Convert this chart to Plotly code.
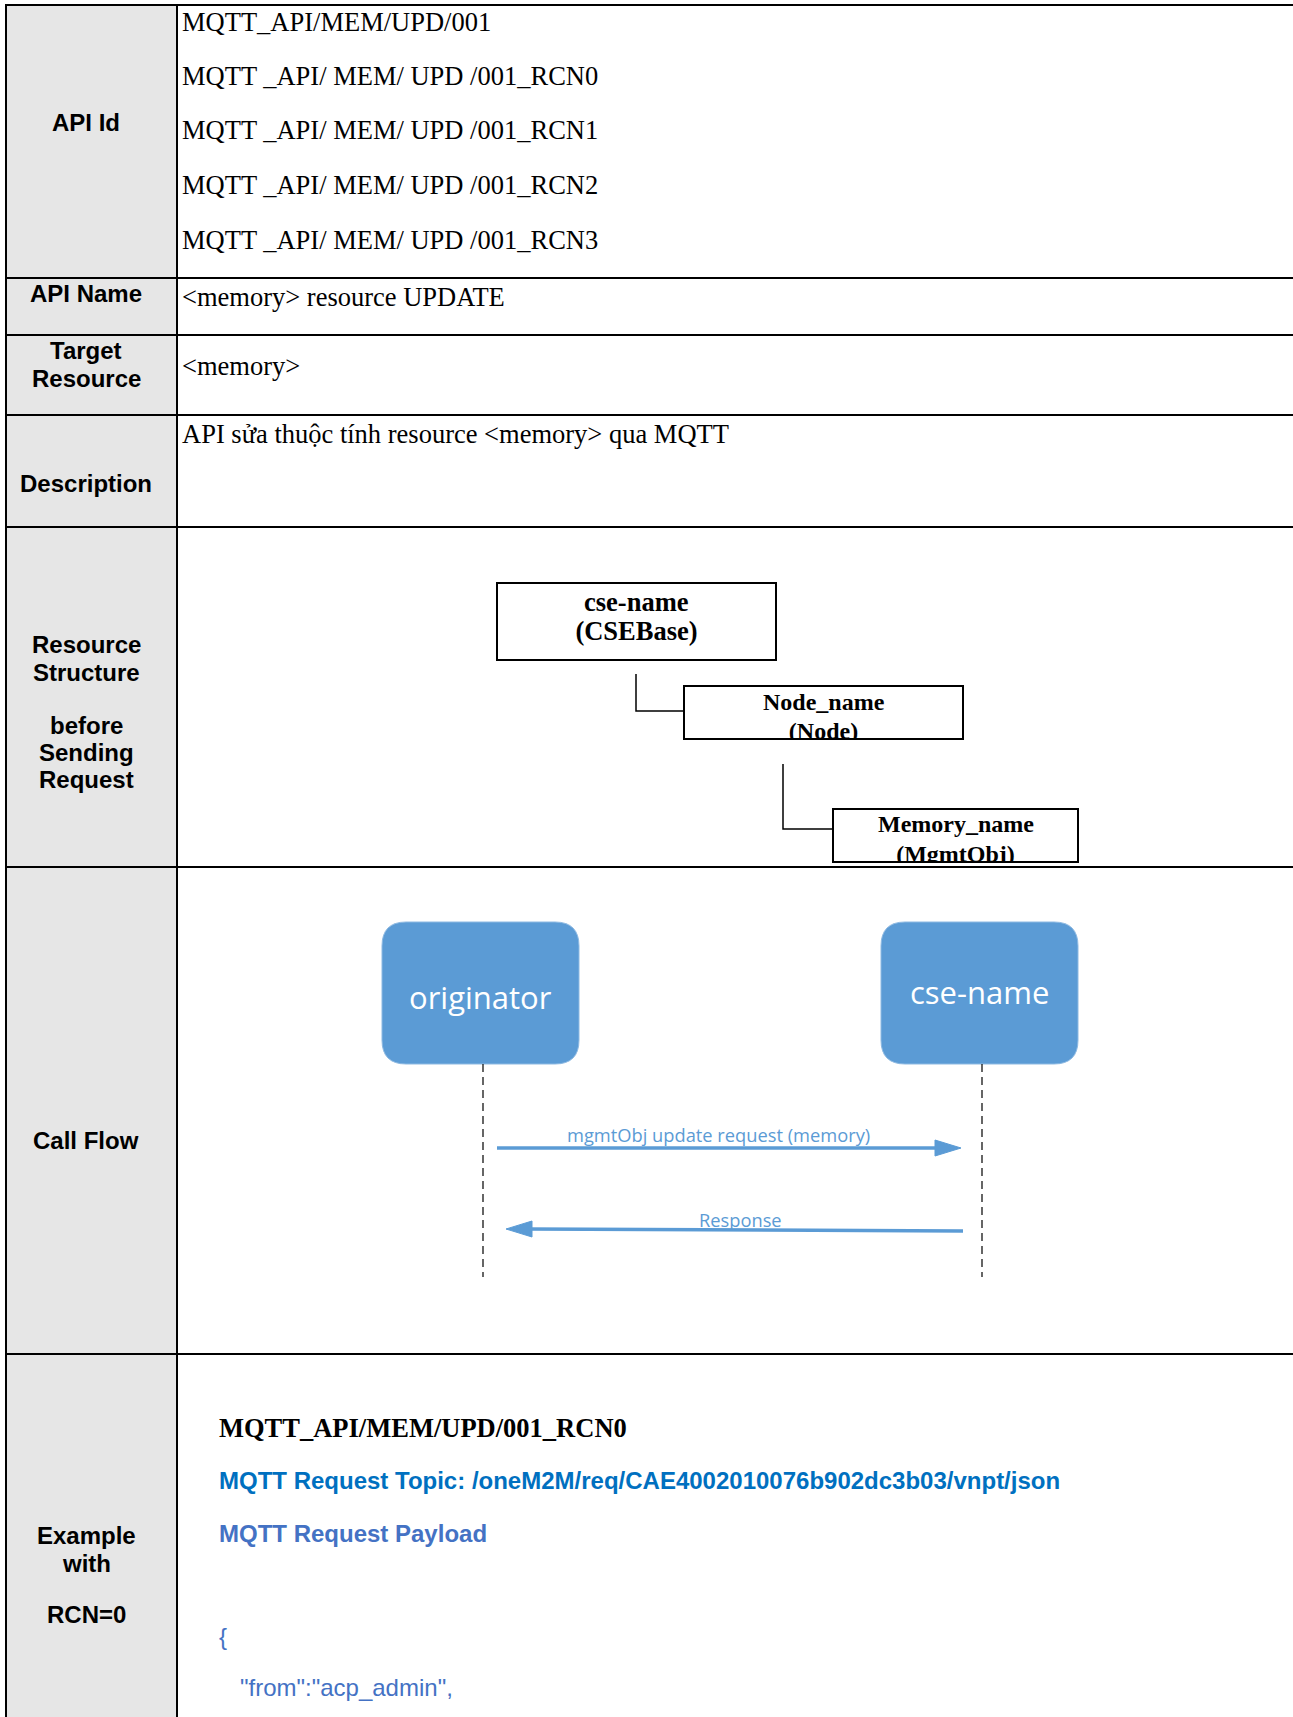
import plotly.graph_objects as go

W, H = 1293, 1717

# ---------------- data (texts) ----------------
label_lines = {
    "api_id": ["API Id"],
    "api_name": ["API Name"],
    "target": ["Target", "Resource"],
    "description": ["Description"],
    "structure": ["Resource", "Structure", "before", "Sending", "Request"],
    "call_flow": ["Call Flow"],
    "example": ["Example", "with", "RCN=0"],
}
api_ids = [
    "MQTT_API/MEM/UPD/001",
    "MQTT _API/ MEM/ UPD /001_RCN0",
    "MQTT _API/ MEM/ UPD /001_RCN1",
    "MQTT _API/ MEM/ UPD /001_RCN2",
    "MQTT _API/ MEM/ UPD /001_RCN3",
]
api_name = "&lt;memory&gt; resource UPDATE"
target_resource = "&lt;memory&gt;"
description = "API sửa thuộc tính resource &lt;memory&gt; qua MQTT"
tree_nodes = [["cse-name", "(CSEBase)"], ["Node_name", "(Node)"], ["Memory_name", "(MgmtObj)"]]
actors = ["originator", "cse-name"]
messages = ["mgmtObj update request (memory)", "Response"]
example_title = "MQTT_API/MEM/UPD/001_RCN0"
example_topic = "MQTT Request Topic: /oneM2M/req/CAE4002010076b902dc3b03/vnpt/json"
example_payload_title = "MQTT Request Payload"
payload_lines = ["{", "\"from\":\"acp_admin\","]

# ---------------- layout geometry ----------------
row_edges = [5, 278, 335, 415, 527, 867, 1354]
x_left, x_div = 6, 177
label_x = 86
label_pos = {
    "api_id": [122], "api_name": [293], "target": [350, 378], "description": [483],
    "structure": [644, 672, 725, 752, 779], "call_flow": [1140], "example": [1535, 1563, 1614],
}
api_id_y = [22, 76, 130, 185, 240]
content_x = 180

SERIF = "Liberation Serif, Times New Roman, serif"
SANS = "Liberation Sans, Arial, sans-serif"
UI = "Open Sans, Noto Sans, sans-serif"
BLUE = "#5B9BD5"

fig = go.Figure()
shapes = []
ann = []

# label column background
shapes.append(dict(type="rect", x0=x_left, x1=x_div, y0=row_edges[0], y1=H + 20,
                   fillcolor="#e6e6e6", line=dict(width=0), layer="below"))

def text(x, y, s, size, family, color="black", xanchor="left", bold=False):
    if bold:
        s = "<b>" + s + "</b>"
    ann.append(dict(x=x, y=y, xref="x", yref="y", text=s, showarrow=False,
                    xanchor=xanchor, yanchor="middle",
                    font=dict(size=size, family=family, color=color)))

# labels
for key, lines in label_lines.items():
    for ln, yy in zip(lines, label_pos[key]):
        text(label_x, yy, ln, 24, SANS, xanchor="center", bold=True)

# content texts
for s, yy in zip(api_ids, api_id_y):
    text(content_x, yy, s, 26.5, SERIF)
text(content_x, 297, api_name, 26.5, SERIF)
text(content_x, 366, target_resource, 26.5, SERIF)
text(content_x, 434, description, 26.5, SERIF)

# ---- resource tree ----
boxes = [(497, 776, 583, 660), (684, 963, 686, 739), (833, 1078, 809, 862)]
text_y = [(602, 633), (702, 733), (824, 856)]
tree_font = [26.5, 24, 24]
shapes.append(dict(type="path", path="M 636 660 L 636 711 L 684 711",
                   line=dict(color="black", width=1.5), layer="below"))
shapes.append(dict(type="path", path="M 783 764 L 783 829 L 833 829",
                   line=dict(color="black", width=1.5), layer="below"))
for (x0, x1, y0, y1), (t1, t2), (ya, yb), fs in zip(boxes, tree_nodes, text_y, tree_font):
    cx = (x0 + x1) / 2
    text(cx, ya, t1, fs, SERIF, xanchor="center", bold=True)
    fig.add_trace(go.Scatter(x=[cx], y=[yb], mode="text", text=["<b>" + t2 + "</b>"],
                             textposition="middle center", hoverinfo="skip",
                             textfont=dict(size=fs, family=SERIF, color="black")))
    shapes.append(dict(type="rect", x0=x0 - 2, x1=x1 + 2, y0=y1 + 1, y1=y1 + 14,
                       fillcolor="white", line=dict(width=0), layer="above"))
    shapes.append(dict(type="rect", x0=x0, x1=x1, y0=y0, y1=y1,
                       line=dict(color="black", width=2), layer="above"))

# ---- call flow ----
def rrect(x0, x1, y0, y1, r):
    return (f"M {x0+r} {y0} L {x1-r} {y0} Q {x1} {y0} {x1} {y0+r} L {x1} {y1-r} "
            f"Q {x1} {y1} {x1-r} {y1} L {x0+r} {y1} Q {x0} {y1} {x0} {y1-r} "
            f"L {x0} {y0+r} Q {x0} {y0} {x0+r} {y0} Z")

actor_boxes = [(382, 579), (881, 1078)]
actor_text_y = [997, 992]
lifeline_x = [483, 982]
for (x0, x1), name, ty, lx in zip(actor_boxes, actors, actor_text_y, lifeline_x):
    shapes.append(dict(type="path", path=rrect(x0, x1, 922, 1064, 24),
                       fillcolor=BLUE, line=dict(color="#8db9e2", width=1), layer="below"))
    text((x0 + x1) / 2, ty, name, 31, UI, color="white", xanchor="center")
    shapes.append(dict(type="line", x0=lx, x1=lx, y0=1064, y1=1277,
                       line=dict(color="black", width=1.2, dash="8px,5px"), layer="below"))

# request arrow
shapes.append(dict(type="line", x0=497, x1=940, y0=1148, y1=1148,
                   line=dict(color=BLUE, width=3.5), layer="below"))
shapes.append(dict(type="path", path="M 935 1140 L 961 1148 L 935 1156 Z",
                   fillcolor=BLUE, line=dict(color=BLUE, width=1), layer="below"))
text(718, 1134, messages[0], 18.3, UI, color=BLUE, xanchor="center")
# response arrow
shapes.append(dict(type="line", x0=528, x1=963, y0=1229, y1=1231,
                   line=dict(color=BLUE, width=3.5), layer="below"))
shapes.append(dict(type="path", path="M 532 1221 L 506 1229 L 532 1237 Z",
                   fillcolor=BLUE, line=dict(color=BLUE, width=1), layer="below"))
text(740, 1219, messages[1], 18.3, UI, color=BLUE, xanchor="center")

# ---- example ----
text(217, 1428, example_title, 26.5, SERIF, bold=True)
text(217, 1480, example_topic, 24, SANS, color="#0070C0", bold=True)
text(217, 1533, example_payload_title, 24, SANS, color="#4472C4", bold=True)
text(217, 1636, payload_lines[0], 24, SANS, color="#4472C4")
text(238, 1687, payload_lines[1], 24, SANS, color="#4472C4")

# table rules (drawn on top)
for yy in row_edges:
    shapes.append(dict(type="line", x0=x_left - 1, x1=W + 20, y0=yy, y1=yy,
                       line=dict(color="black", width=2), layer="above"))
for xx in (x_left, x_div):
    shapes.append(dict(type="line", x0=xx, x1=xx, y0=row_edges[0], y1=H + 20,
                       line=dict(color="black", width=2), layer="above"))

fig.update_layout(
    width=W, height=H, margin=dict(l=0, r=0, t=0, b=0),
    paper_bgcolor="white", plot_bgcolor="white", showlegend=False,
    shapes=shapes, annotations=ann, hovermode=False,
    xaxis=dict(range=[0, W], visible=False, fixedrange=True),
    yaxis=dict(range=[H, 0], visible=False, fixedrange=True),
)
fig.write_html("out.html", config={"displayModeBar": False},
               post_script="document.body.style.margin='0';")
